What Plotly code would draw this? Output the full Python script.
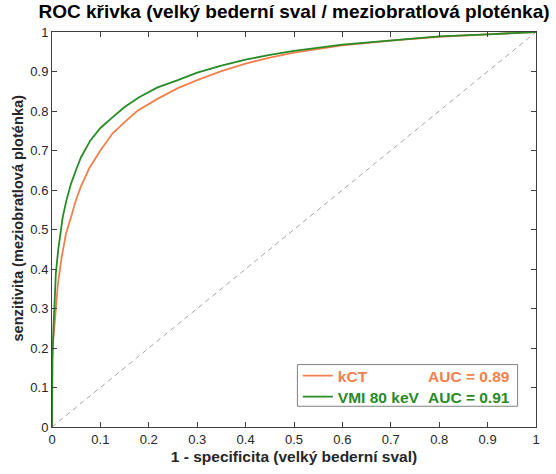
import plotly.graph_objects as go

# ROC data
kct_fpr = [0, 0, 0.004, 0.008, 0.012, 0.02, 0.029, 0.039, 0.049, 0.06, 0.077, 0.10, 0.125,
           0.15, 0.176, 0.217, 0.26, 0.30, 0.35, 0.40, 0.45, 0.5, 0.6, 0.7, 0.8, 0.9, 1.0]
kct_tpr = [0, 0.19, 0.24, 0.30, 0.36, 0.43, 0.49, 0.53, 0.573, 0.61, 0.655, 0.70, 0.743,
           0.772, 0.80, 0.83, 0.858, 0.878, 0.901, 0.92, 0.935, 0.948, 0.966, 0.978, 0.988, 0.994, 1.0]

vmi_fpr = [0, 0, 0.001, 0.003, 0.005, 0.008, 0.013, 0.018, 0.022, 0.029, 0.039, 0.05, 0.06,
           0.079, 0.10, 0.125, 0.15, 0.18, 0.217, 0.26, 0.30, 0.35, 0.40, 0.45, 0.5, 0.6, 0.7,
           0.8, 0.9, 1.0]
vmi_tpr = [0, 0.12, 0.17, 0.25, 0.31, 0.39, 0.45, 0.497, 0.53, 0.57, 0.615, 0.652, 0.683,
           0.725, 0.757, 0.784, 0.81, 0.835, 0.859, 0.878, 0.897, 0.915, 0.93, 0.942, 0.952,
           0.968, 0.979, 0.989, 0.994, 1.0]

diag = [0, 1]

series_names = ["kCT", "VMI 80 keV"]
auc_labels = ["AUC = 0.89", "AUC = 0.91"]
colors = ["#F2804D", "#278B27"]

tick_vals = [0, 0.1, 0.2, 0.3, 0.4, 0.5, 0.6, 0.7, 0.8, 0.9, 1]
tick_text = ["0", "0.1", "0.2", "0.3", "0.4", "0.5", "0.6", "0.7", "0.8", "0.9", "1"]

FONT = "Liberation Sans, Arial, sans-serif"
AX = "#404040"
item_y = [0.1288, 0.0758]

fig = go.Figure()
fig.add_trace(go.Scatter(x=diag, y=diag, mode="lines", showlegend=False,
                         line=dict(color="#9a9a9a", width=0.9, dash="5px,4px"), hoverinfo="skip"))
fig.add_trace(go.Scatter(x=kct_fpr, y=kct_tpr, mode="lines", legend="legend",
                         name=f"<span style='color:{colors[0]}'><b>{series_names[0]}</b></span>",
                         line=dict(color=colors[0], width=1.8)))
fig.add_trace(go.Scatter(x=vmi_fpr, y=vmi_tpr, mode="lines", legend="legend2",
                         name=f"<span style='color:{colors[1]}'><b>{series_names[1]}</b></span>",
                         line=dict(color=colors[1], width=1.8)))

axis_common = dict(range=[0, 1], tickvals=tick_vals, ticktext=tick_text, ticks="inside",
                   ticklen=5, tickcolor=AX, showline=True, linecolor=AX, linewidth=1,
                   mirror="allticks", showgrid=False, zeroline=False,
                   tickfont=dict(family=FONT, size=13, color="#262626"))

leg_common = dict(x=0.508, xanchor="left", yanchor="middle", bgcolor="rgba(0,0,0,0)",
                  borderwidth=0, font=dict(family=FONT, size=15.5), itemwidth=30)

fig.update_layout(
    width=556, height=474,
    margin=dict(l=52, r=20, t=31.5, b=46.5),
    paper_bgcolor="white", plot_bgcolor="white",
    title=dict(text="<b>ROC křivka (velký bederní sval / meziobratlová ploténka)</b>",
               x=0.5, xref="paper", xanchor="center", y=0.99, yref="container", yanchor="top",
               font=dict(family=FONT, size=19, color="black")),
    xaxis=dict(**axis_common,
               title=dict(text="<b>1 - specificita (velký bederní sval)</b>", standoff=5,
                          font=dict(family=FONT, size=15.5, color="#262626"))),
    yaxis=dict(**axis_common),
    legend=dict(**leg_common, y=item_y[0]),
    legend2=dict(**leg_common, y=item_y[1]),
    shapes=[dict(type="rect", xref="paper", yref="paper", x0=0.507, x1=0.962, y0=0.0525, y1=0.158,
                 line=dict(color="#808080", width=1), fillcolor="white", layer="below")],
)

fig.add_annotation(text="<b>senzitivita (meziobratlová ploténka)</b>", xref="paper", yref="paper",
                   x=0, y=0.529, xshift=-33.5, xanchor="center", yanchor="middle", textangle=-90,
                   showarrow=False, font=dict(family=FONT, size=14.6, color="#262626"))

for i, (lab, c) in enumerate(zip(auc_labels, colors)):
    fig.add_annotation(text=f"<b>{lab}</b>", xref="paper", yref="paper", x=0.95,
                       y=item_y[i], xanchor="right", yanchor="middle", showarrow=False,
                       font=dict(family=FONT, size=15.5, color=c))

fig.write_html("out.html")
